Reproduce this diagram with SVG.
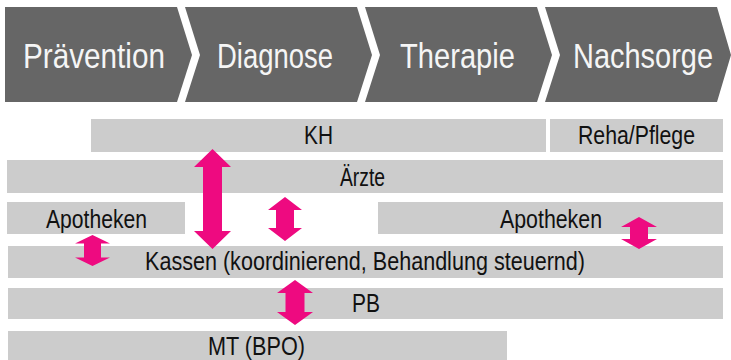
<svg xmlns="http://www.w3.org/2000/svg" width="731" height="360" viewBox="0 0 731 360">
<style>
.chev{fill:#666666}
.bar{fill:#cccccc}
.ttl{font-family:"Liberation Sans Narrow","Liberation Sans",Arial,sans-serif;font-size:35px;fill:#f5f5f5}
.lbl{font-family:"Liberation Sans Narrow","Liberation Sans",Arial,sans-serif;font-size:25px;fill:#111111}
.arr{fill:#ee0a80}
</style>
<rect width="731" height="360" fill="#ffffff"/>
<g id="praevention"><polygon class="chev" points="5,7 177,7 192,55 177,102 5,102"/><text class="ttl" x="23" y="68" textLength="142" lengthAdjust="spacingAndGlyphs">Prävention</text></g>
<g id="diagnose"><polygon class="chev" points="185,7 357,7 372,55 357,102 185,102 200,55"/><text class="ttl" x="217" y="68" textLength="116" lengthAdjust="spacingAndGlyphs">Diagnose</text></g>
<g id="therapie"><polygon class="chev" points="365,7 537,7 552,55 537,102 365,102 380,55"/><text class="ttl" x="400" y="68" textLength="115" lengthAdjust="spacingAndGlyphs">Therapie</text></g>
<g id="nachsorge"><polygon class="chev" points="545,7 717,7 731,55 717,102 545,102 560,55"/><text class="ttl" x="573" y="68" textLength="140" lengthAdjust="spacingAndGlyphs">Nachsorge</text></g>
<g id="kh"><rect class="bar" x="91" y="119" width="455" height="33"/><text class="lbl" x="304" y="144" textLength="29" lengthAdjust="spacingAndGlyphs">KH</text></g>
<g id="reha"><rect class="bar" x="550" y="119" width="173" height="33"/><text class="lbl" x="578" y="144" textLength="117" lengthAdjust="spacingAndGlyphs">Reha/Pflege</text></g>
<g id="aerzte"><rect class="bar" x="7" y="160" width="716" height="33"/><text class="lbl" x="340" y="186" textLength="45" lengthAdjust="spacingAndGlyphs">Ärzte</text></g>
<g id="apotheken-links"><rect class="bar" x="7" y="202" width="178" height="32"/><text class="lbl" x="46" y="228" textLength="101" lengthAdjust="spacingAndGlyphs">Apotheken</text></g>
<g id="apotheken-rechts"><rect class="bar" x="378" y="202" width="345" height="32"/><text class="lbl" x="500" y="228" textLength="102" lengthAdjust="spacingAndGlyphs">Apotheken</text></g>
<g id="kassen"><rect class="bar" x="8" y="246" width="715" height="32"/><text class="lbl" x="145" y="270" textLength="440" lengthAdjust="spacingAndGlyphs">Kassen (koordinierend, Behandlung steuernd)</text></g>
<g id="pb"><rect class="bar" x="8" y="288" width="715" height="31"/><text class="lbl" x="352" y="312" textLength="28" lengthAdjust="spacingAndGlyphs">PB</text></g>
<g id="mt"><rect class="bar" x="8" y="331" width="499" height="29"/><text class="lbl" x="208" y="355" textLength="97" lengthAdjust="spacingAndGlyphs">MT (BPO)</text></g>
<g id="connectors">
<polygon class="arr" points="212.5,149 231,167 222,167 222,231 231,231 212.5,249 194,231 203,231 203,167 194,167"/>
<polygon class="arr" points="285,197 302,210 294,210 294,228 302,228 285,241 268,228 276,228 276,210 268,210"/>
<polygon class="arr" points="92.5,235 110,243.5 101,243.5 101,257.5 110,257.5 92.5,266 75,257.5 84,257.5 84,243.5 75,243.5"/>
<polygon class="arr" points="295,280 313,293 304.5,293 304.5,312 313,312 295,325 277,312 285.5,312 285.5,293 277,293"/>
<polygon class="arr" points="639,217 657,227 648,227 648,239 657,239 639,249 621,239 630,239 630,227 621,227"/>
</g>
</svg>
